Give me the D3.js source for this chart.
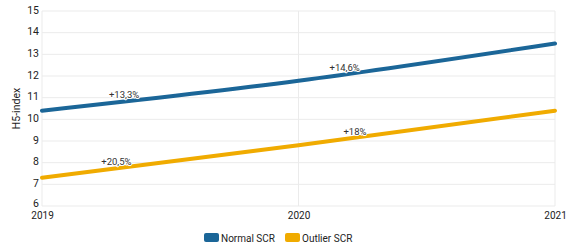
<!DOCTYPE html>
<html><head><meta charset="utf-8">
<script src="https://cdn.jsdelivr.net/npm/d3@7"></script>
<style>body{margin:0;background:#fff;font-family:Roboto,sans-serif}</style>
</head><body>
<svg id="c" width="568" height="250"></svg>
<script>
const years = [2019, 2020, 2021];
const normalSCR = [10.4, 11.78, 13.5];
const outlierSCR = [7.3, 8.8, 10.4];
const yTicks = [6,7,8,9,10,11,12,13,14,15];
const normalLabels = ["+13,3%", "+14,6%"];
const outlierLabels = ["+20,5%", "+18%"];
const seriesNames = ["Normal SCR", "Outlier SCR"];
const colors = ["#1b6698", "#f0ab00"];

const svg = d3.select("#c");
const m = {l:42, r:13, t:11, b:44};
const W = 568, H = 250;
const x = d3.scaleLinear().domain([2019, 2021]).range([m.l, W - m.r]);
const y = d3.scaleLinear().domain([6, 15]).range([H - m.b, m.t]);

// grid
svg.append("g").selectAll("line").data(yTicks).join("line")
  .attr("x1", m.l).attr("x2", W - m.r)
  .attr("y1", d => y(d)).attr("y2", d => y(d))
  .attr("stroke", "#ebebeb").attr("stroke-width", 1);
svg.append("g").selectAll("line").data(years).join("line")
  .attr("x1", d => x(d)).attr("x2", d => x(d))
  .attr("y1", y(6)).attr("y2", y(15))
  .attr("stroke", "#ebebeb").attr("stroke-width", 1);

// axes
const yAxis = svg.append("g").attr("transform", `translate(${m.l},0)`)
  .call(d3.axisLeft(y).tickValues(yTicks).tickSize(0).tickPadding(3));
yAxis.select(".domain").remove();
yAxis.selectAll("text").attr("font-size", 10.5).attr("fill", "#222").attr("font-family", "Roboto")
  .attr("dy", d => d === 6 ? "0.05em" : "0.2em");

const xAxis = svg.append("g").attr("transform", `translate(0,${y(6)})`)
  .call(d3.axisBottom(x).tickValues(years).tickFormat(d3.format("d")).tickSize(0).tickPadding(3));
xAxis.select(".domain").remove();
xAxis.selectAll("text").attr("font-size", 10).attr("fill", "#222").attr("font-family", "Roboto")
  .attr("dy", "0.95em");

svg.append("text").attr("transform", `translate(19.5,${(y(6)+y(15))/2}) rotate(-90)`)
  .attr("text-anchor", "middle").attr("font-size", 10.5).attr("fill", "#222").text("H5-index");

// lines
const line = d3.line().x((d,i) => x(years[i])).y(d => y(d)).curve(d3.curveMonotoneX);
[normalSCR, outlierSCR].forEach((s, k) => {
  svg.append("path").datum(s).attr("d", line).attr("fill", "none")
    .attr("stroke", colors[k]).attr("stroke-width", 4).attr("stroke-linecap", "round");
});

// labels
function addLabels(vals, labels, fracs) {
  labels.forEach((t, i) => {
    const f = fracs[i];
    const xv = years[i] + f;
    const yv = vals[i] + (vals[i+1] - vals[i]) * f;
    svg.append("text").attr("x", x(xv)).attr("y", y(yv) - 3)
      .attr("text-anchor", "middle").attr("font-size", 9.5).attr("fill", "#333")
      .attr("stroke", "#fff").attr("stroke-width", 2).attr("paint-order", "stroke")
      .text(t);
  });
}
addLabels(normalSCR, normalLabels, [0.32, 0.18]);
addLabels(outlierSCR, outlierLabels, [0.29, 0.22]);

// legend
const lg = svg.append("g");
const lx = [204, 285];
seriesNames.forEach((n, k) => {
  lg.append("rect").attr("x", lx[k]).attr("y", 233).attr("width", 15).attr("height", 9)
    .attr("rx", 2).attr("fill", colors[k]);
  lg.append("text").attr("x", lx[k] + 17).attr("y", 241.5).attr("font-size", 10)
    .attr("fill", "#222").text(n);
});
</script>
</body></html>
